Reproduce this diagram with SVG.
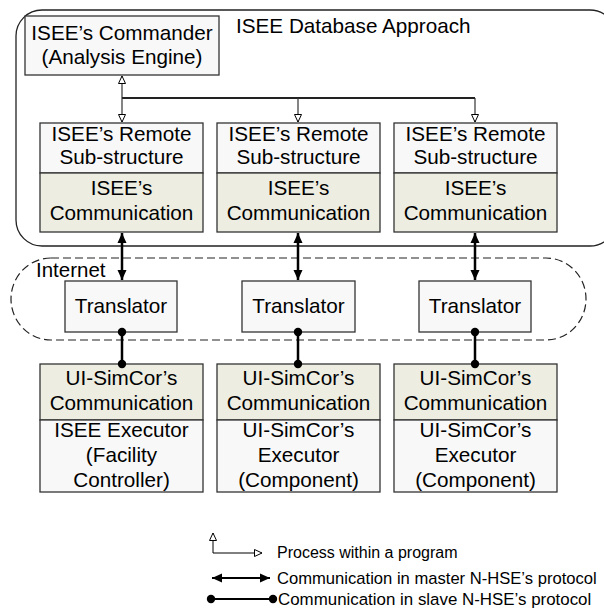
<svg xmlns="http://www.w3.org/2000/svg" width="604" height="614" viewBox="0 0 604 614">
<defs>
<style>
text{font-family:"Liberation Sans",Arial,sans-serif;fill:#000}
.t{font-size:20.7px;text-anchor:middle}
.l{font-size:16.3px}
.box{stroke:#333;stroke-width:1.3}
.lt{fill:#f8f8f8}
.gr{fill:#ededE2}
.thin{stroke:#333;stroke-width:1.2;fill:none}
.thick{stroke:#000;stroke-width:2.5;fill:none}
</style>
<marker id="hol" markerUnits="userSpaceOnUse" markerWidth="10" markerHeight="10" refX="8" refY="4" orient="auto-start-reverse" viewBox="0 0 10 8">
<path d="M0.5,0.5 L8,4 L0.5,7.5 z" fill="#fff" stroke="#000" stroke-width="1"/>
</marker>
<marker id="fil" markerUnits="userSpaceOnUse" markerWidth="11" markerHeight="10" refX="10" refY="4.5" orient="auto-start-reverse" viewBox="0 0 11 9">
<path d="M0,0 L10,4.5 L0,9 z" fill="#000"/>
</marker>
<marker id="dot" markerUnits="userSpaceOnUse" markerWidth="10" markerHeight="10" refX="5" refY="5" viewBox="0 0 10 10">
<circle cx="5" cy="5" r="4.2" fill="#000"/>
</marker>
</defs>
<rect x="16" y="10" width="600" height="236" rx="26" ry="26" fill="none" stroke="#222" stroke-width="1.3"/>
<text x="236" y="33" style="font-size:20.7px">ISEE Database Approach</text>
<rect x="11" y="258" width="575" height="82" rx="40" ry="41" fill="none" stroke="#222" stroke-width="1.2" stroke-dasharray="8,4"/>
<text x="36" y="277" style="font-size:20.5px">Internet</text>
<g id="commander">
<rect class="box lt" x="25" y="16" width="194" height="59"/>
<text class="t" x="122" y="40">ISEE’s Commander</text>
<text class="t" x="122" y="64">(Analysis Engine)</text>
</g>
<g id="remote1">
<rect class="box lt" x="40" y="123" width="163" height="50"/>
<rect class="box gr" x="40" y="173" width="163" height="59"/>
<text class="t" x="121.5" y="141">ISEE’s Remote</text>
<text class="t" x="121.5" y="164">Sub-structure</text>
<text class="t" x="121.5" y="195">ISEE’s</text>
<text class="t" x="121.5" y="220">Communication</text>
</g>
<g id="remote2">
<rect class="box lt" x="217" y="123" width="163" height="50"/>
<rect class="box gr" x="217" y="173" width="163" height="59"/>
<text class="t" x="298.5" y="141">ISEE’s Remote</text>
<text class="t" x="298.5" y="164">Sub-structure</text>
<text class="t" x="298.5" y="195">ISEE’s</text>
<text class="t" x="298.5" y="220">Communication</text>
</g>
<g id="remote3">
<rect class="box lt" x="394" y="123" width="163" height="50"/>
<rect class="box gr" x="394" y="173" width="163" height="59"/>
<text class="t" x="475.5" y="141">ISEE’s Remote</text>
<text class="t" x="475.5" y="164">Sub-structure</text>
<text class="t" x="475.5" y="195">ISEE’s</text>
<text class="t" x="475.5" y="220">Communication</text>
</g>
<g id="translator1">
<rect class="box lt" x="65" y="281" width="112" height="51"/>
<text class="t" x="121" y="313">Translator</text>
</g>
<g id="translator2">
<rect class="box lt" x="242" y="281" width="113" height="51"/>
<text class="t" x="298.5" y="313">Translator</text>
</g>
<g id="translator3">
<rect class="box lt" x="419" y="281" width="112" height="51"/>
<text class="t" x="475" y="313">Translator</text>
</g>
<g id="executor1">
<rect class="box gr" x="40" y="364" width="163" height="56"/>
<rect class="box lt" x="40" y="420" width="163" height="72"/>
<text class="t" x="121.5" y="385">UI-SimCor’s</text>
<text class="t" x="121.5" y="410">Communication</text>
<text class="t" x="121.5" y="437">ISEE Executor</text>
<text class="t" x="121.5" y="462">(Facility</text>
<text class="t" x="121.5" y="487">Controller)</text>
</g>
<g id="executor2">
<rect class="box gr" x="217" y="364" width="163" height="56"/>
<rect class="box lt" x="217" y="420" width="163" height="72"/>
<text class="t" x="298.5" y="385">UI-SimCor’s</text>
<text class="t" x="298.5" y="410">Communication</text>
<text class="t" x="298.5" y="437">UI-SimCor’s</text>
<text class="t" x="298.5" y="462">Executor</text>
<text class="t" x="298.5" y="487">(Component)</text>
</g>
<g id="executor3">
<rect class="box gr" x="394" y="364" width="163" height="56"/>
<rect class="box lt" x="394" y="420" width="163" height="72"/>
<text class="t" x="475.5" y="385">UI-SimCor’s</text>
<text class="t" x="475.5" y="410">Communication</text>
<text class="t" x="475.5" y="437">UI-SimCor’s</text>
<text class="t" x="475.5" y="462">Executor</text>
<text class="t" x="475.5" y="487">(Component)</text>
</g>
<g id="connectors">
<path class="thin" d="M122,98 V76" marker-end="url(#hol)"/>
<path d="M122,98 H475" stroke="#222" stroke-width="2" fill="none"/>
<path class="thin" d="M122,98 V122" marker-end="url(#hol)"/>
<path class="thin" d="M298,98 V122" marker-end="url(#hol)"/>
<path class="thin" d="M475,98 V122" marker-end="url(#hol)"/>
<path class="thick" d="M122,233 V280" marker-start="url(#fil)" marker-end="url(#fil)"/>
<path class="thick" d="M298,233 V280" marker-start="url(#fil)" marker-end="url(#fil)"/>
<path class="thick" d="M475,233 V280" marker-start="url(#fil)" marker-end="url(#fil)"/>
<path class="thick" d="M122,332 V364" marker-start="url(#dot)" marker-end="url(#dot)"/>
<path class="thick" d="M298,332 V364" marker-start="url(#dot)" marker-end="url(#dot)"/>
<path class="thick" d="M475,332 V364" marker-start="url(#dot)" marker-end="url(#dot)"/>
</g>
<g id="legend">
<path class="thin" d="M213,533 V553 H262" marker-start="url(#hol)" marker-end="url(#hol)" style="stroke:#000;stroke-width:1"/>
<text class="l" x="277" y="558" style="font-size:16px">Process within a program</text>
<path class="thick" d="M212,578 H270" marker-start="url(#fil)" marker-end="url(#fil)" style="stroke-width:2"/>
<text class="l" x="277" y="584" style="font-size:16.6px">Communication in master N-HSE’s protocol</text>
<path class="thick" d="M211,599 H273" marker-start="url(#dot)" marker-end="url(#dot)" style="stroke-width:1.8"/>
<text class="l" x="278" y="605" style="font-size:16.9px">Communication in slave N-HSE’s protocol</text>
</g>
</svg>
